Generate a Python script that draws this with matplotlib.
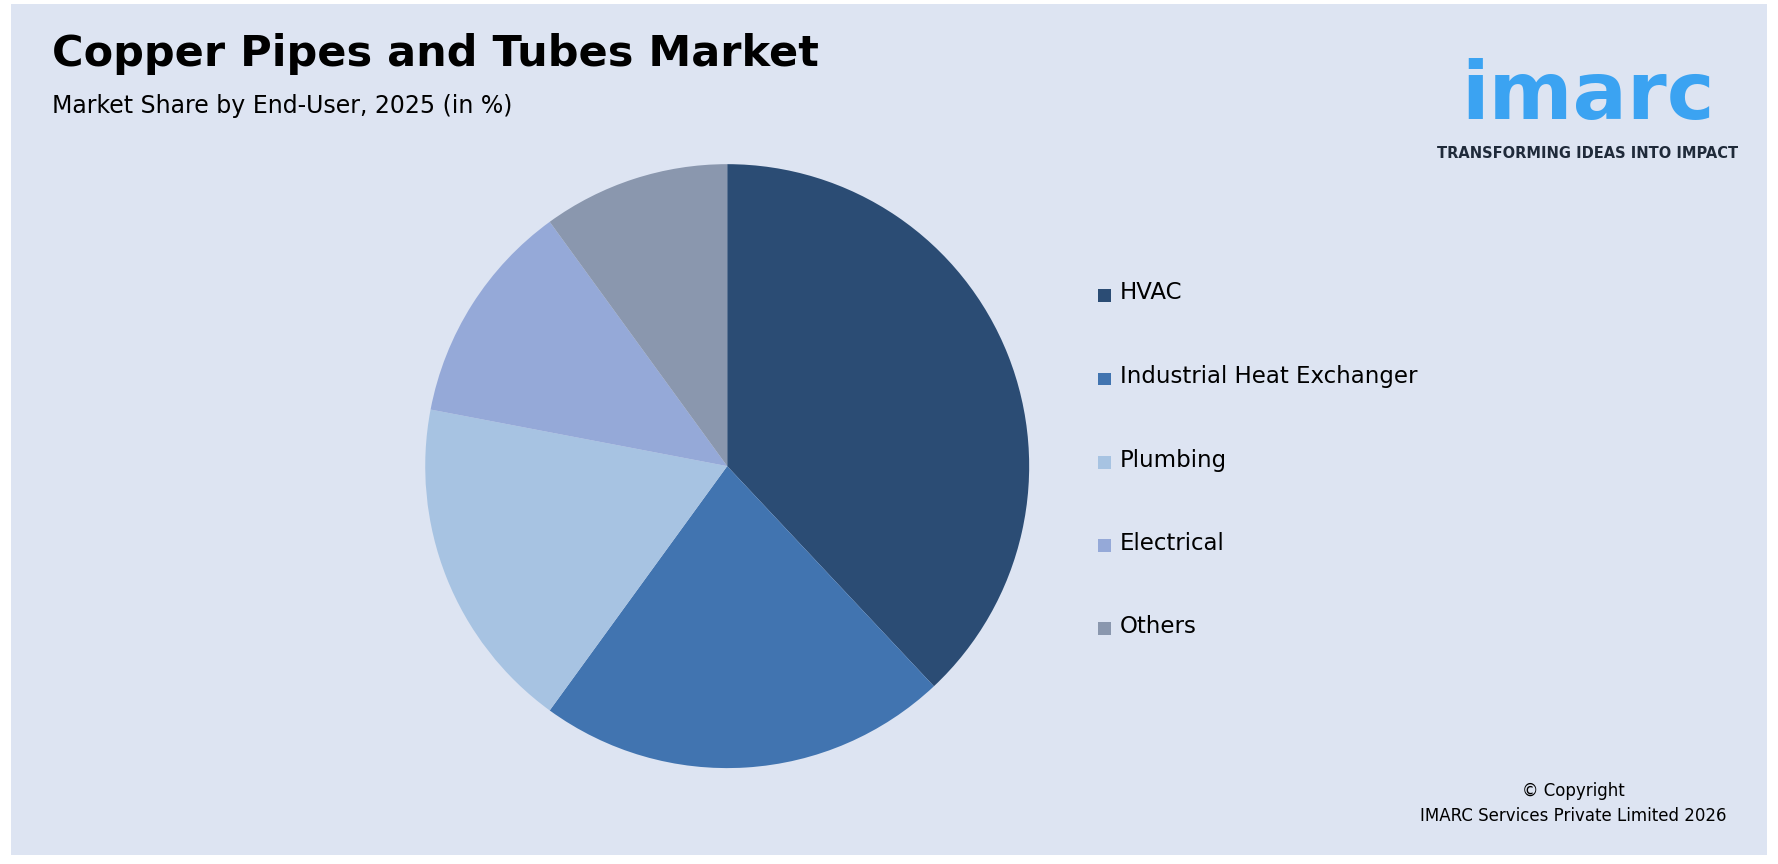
import matplotlib.pyplot as plt
from matplotlib.patches import Rectangle

# Data
labels = ["HVAC", "Industrial Heat Exchanger", "Plumbing", "Electrical", "Others"]
shares = [38, 22, 18, 12, 10]
colors = ["#2B4C74", "#4174B0", "#A7C3E2", "#95A9D8", "#8A97AE"]

bg = "#DDE4F2"
fig = plt.figure(figsize=(17.78, 8.64), dpi=100)
fig.patch.set_facecolor("white")
fig.add_artist(Rectangle((0.006, 0.01), 0.988, 0.985, transform=fig.transFigure,
                         facecolor=bg, edgecolor="none", zorder=-1))

ax = fig.add_axes([0.239, 0.111, 0.34, 0.699])
ax.pie(shares, colors=colors, startangle=90, counterclock=False,
       wedgeprops=dict(linewidth=0))
ax.set_xlim(-1, 1)
ax.set_ylim(-1, 1)
ax.set_aspect("equal")

fig.text(0.029, 0.937, "Copper Pipes and Tubes Market", fontsize=31,
         fontweight="bold", va="center", ha="left")
fig.text(0.029, 0.877, "Market Share by End-User, 2025 (in %)", fontsize=17,
         va="center", ha="left")

# legend
ys = [0.661, 0.564, 0.467, 0.371, 0.275]
for lab, c, y in zip(labels, colors, ys):
    fig.add_artist(Rectangle((0.6175, y - 0.010), 0.0072, 0.0148,
                             transform=fig.transFigure, facecolor=c, edgecolor="none"))
    fig.text(0.630, y, lab, fontsize=16.5, va="center", ha="left")

# logo
fig.text(0.893, 0.888, "imarc", fontsize=58, fontweight="bold", color="#3BA3F2",
         ha="center", va="center")
fig.text(0.893, 0.822, "TRANSFORMING IDEAS INTO IMPACT", fontsize=10.5,
         fontweight="bold", color="#1F2A3A", ha="center", va="center")

fig.text(0.885, 0.084, "© Copyright", fontsize=12, ha="center", va="center")
fig.text(0.885, 0.055, "IMARC Services Private Limited 2026", fontsize=12,
         ha="center", va="center")

fig.savefig("out.png", dpi=100, facecolor=fig.get_facecolor())
